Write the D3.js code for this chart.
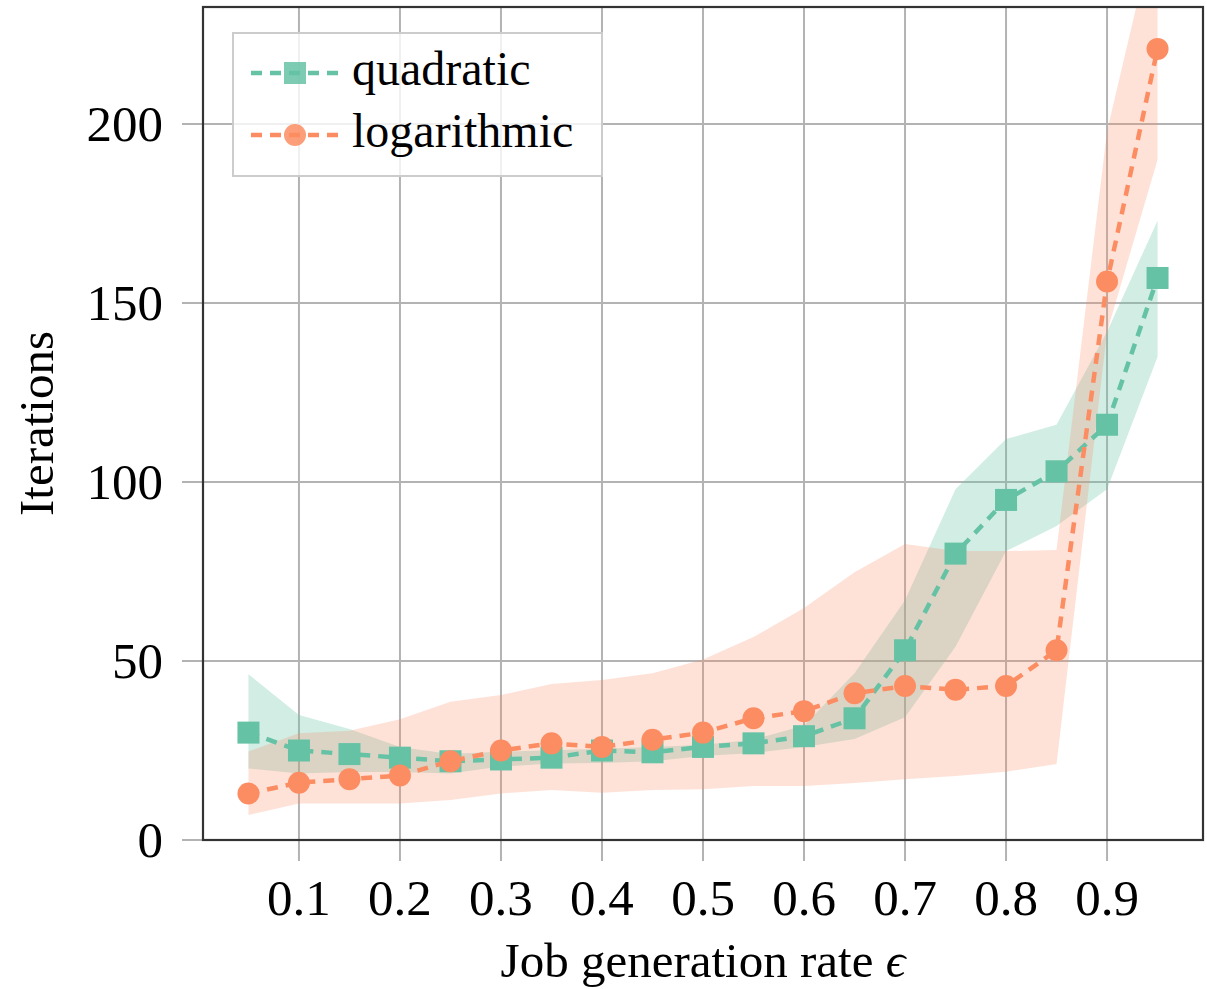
<html>

<head>
    <title>Iterations</title>
    <script src='https://d3js.org/d3.v7.min.js'></script>
    <style>
        body {
            margin: 0;
            background: white;
        }
        text {
            font-family: "Liberation Serif", "Times New Roman", serif;
            fill: black;
        }
    </style>
</head>

<body>
    <svg id="chart"></svg>
    <script>
        // job generation rate
        var rates = [0.05, 0.1, 0.15, 0.2, 0.25, 0.3, 0.35, 0.4, 0.45, 0.5,
            0.55, 0.6, 0.65, 0.7, 0.75, 0.8, 0.85, 0.9, 0.95];

        var quadMean = [30, 25, 24, 23, 22, 22.5, 23, 25, 24.5, 26,
            27, 29, 34, 53, 80, 95, 103, 116, 157];
        var quadUpper = [46.3, 34.9, 31, 26, 24, 24.7, 25.1, 25.5, 26, 26.6,
            28, 32, 46.6, 67, 98, 112, 116, 142, 173];
        var quadLower = [20, 18.6, 19, 19, 18.6, 20.5, 21.4, 21.5, 22, 23.5,
            24.3, 26, 28.2, 34.3, 54, 80.7, 87.7, 98, 135];

        var logMean = [13, 16, 17, 18, 22, 25, 27, 26, 28, 30,
            34, 36, 41, 43, 42, 43, 53, 156, 221];
        var logUpper = [24.7, 29.8, 30.5, 33.7, 38.6, 40.5, 43.6, 44.7, 46.6, 50.4,
            56.7, 64.8, 74.8, 82.7, 80.7, 80.7, 81, 198, 258];
        var logLower = [7, 10.2, 10.2, 10.2, 11.2, 13, 14, 13.2, 14, 14.2,
            15.1, 15.1, 15.9, 17, 17.9, 19.1, 21.2, 142, 190];

        var xTicks = [0.1, 0.2, 0.3, 0.4, 0.5, 0.6, 0.7, 0.8, 0.9];
        var yTicks = [0, 50, 100, 150, 200];

        var W = 1207, H = 989;
        var plotL = 203, plotR = 1203, plotT = 7, plotB = 840;
        var teal = "#66c2a5", orange = "#fc8d62", gridColor = "#b3b3b3";

        var x = d3.scaleLinear().domain([0.005, 0.995]).range([plotL, plotR]);
        var y = d3.scaleLinear().domain([0, 232.7]).range([plotB, plotT]);

        var svg = d3.select("#chart").attr("width", W).attr("height", H);

        svg.append("defs").append("clipPath").attr("id", "plotclip")
            .append("rect")
            .attr("x", plotL).attr("y", plotT)
            .attr("width", plotR - plotL).attr("height", plotB - plotT);

        // grid + outside ticks
        svg.append("g").selectAll("line").data(xTicks).enter().append("line")
            .attr("x1", d => x(d)).attr("x2", d => x(d))
            .attr("y1", plotT).attr("y2", plotB + 21)
            .attr("stroke", gridColor).attr("stroke-width", 2);
        svg.append("g").selectAll("line").data(yTicks).enter().append("line")
            .attr("x1", plotL - 21).attr("x2", plotR)
            .attr("y1", d => y(d)).attr("y2", d => y(d))
            .attr("stroke", gridColor).attr("stroke-width", 2);

        var plot = svg.append("g").attr("clip-path", "url(#plotclip)");

        function band(upper, lower) {
            return d3.area()
                .x((d, i) => x(rates[i]))
                .y0((d, i) => y(lower[i]))
                .y1((d, i) => y(upper[i]))(rates);
        }
        plot.append("path").attr("d", band(quadUpper, quadLower))
            .attr("fill", teal).attr("fill-opacity", 0.3);
        plot.append("path").attr("d", band(logUpper, logLower))
            .attr("fill", orange).attr("fill-opacity", 0.25);

        var line = d3.line().x(d => x(d[0])).y(d => y(d[1]));

        // quadratic
        plot.append("path")
            .attr("d", line(rates.map((r, i) => [r, quadMean[i]])))
            .attr("fill", "none").attr("stroke", teal)
            .attr("stroke-width", 4.5).attr("stroke-dasharray", "11 8");
        plot.append("g").selectAll("rect").data(rates).enter().append("rect")
            .attr("x", (d, i) => x(d) - 11).attr("y", (d, i) => y(quadMean[i]) - 11)
            .attr("width", 22).attr("height", 22)
            .attr("fill", teal);

        // logarithmic
        plot.append("path")
            .attr("d", line(rates.map((r, i) => [r, logMean[i]])))
            .attr("fill", "none").attr("stroke", orange)
            .attr("stroke-width", 4.5).attr("stroke-dasharray", "11 8");
        plot.append("g").selectAll("circle").data(rates).enter().append("circle")
            .attr("cx", d => x(d)).attr("cy", (d, i) => y(logMean[i]))
            .attr("r", 11)
            .attr("fill", orange);

        // frame
        svg.append("rect")
            .attr("x", plotL).attr("y", plotT)
            .attr("width", plotR - plotL).attr("height", plotB - plotT)
            .attr("fill", "none").attr("stroke", "#333").attr("stroke-width", 2.2);

        // tick labels
        svg.append("g").selectAll("text").data(xTicks).enter().append("text")
            .attr("x", d => x(d)).attr("y", 915)
            .attr("text-anchor", "middle").attr("font-size", 51)
            .text(d => d3.format(".1f")(d));
        svg.append("g").selectAll("text").data(yTicks).enter().append("text")
            .attr("x", 163).attr("y", d => y(d) + 17)
            .attr("text-anchor", "end").attr("font-size", 51)
            .text(d => d);

        // axis titles
        var xl = svg.append("text")
            .attr("x", (plotL + plotR) / 2).attr("y", 977)
            .attr("text-anchor", "middle").attr("font-size", 49);
        xl.append("tspan").text("Job generation rate ");
        xl.append("tspan").attr("font-style", "italic").text("\u03f5");

        svg.append("text")
            .attr("transform", "translate(53," + (plotT + plotB) / 2 + ") rotate(-90)")
            .attr("text-anchor", "middle").attr("font-size", 49)
            .text("Iterations");

        // legend
        var legend = svg.append("g");
        legend.append("rect")
            .attr("x", 233).attr("y", 33).attr("width", 369).attr("height", 143)
            .attr("fill", "white").attr("fill-opacity", 0.8)
            .attr("stroke", "#cccccc").attr("stroke-width", 2);
        var entries = [
            { name: "quadratic", color: teal, shape: "square", cy: 73 },
            { name: "logarithmic", color: orange, shape: "circle", cy: 135 }
        ];
        entries.forEach(function (e) {
            legend.append("line")
                .attr("x1", 251).attr("x2", 339).attr("y1", e.cy).attr("y2", e.cy)
                .attr("stroke", e.color).attr("stroke-width", 4.5)
                .attr("stroke-dasharray", "11 8");
            if (e.shape == "square") {
                legend.append("rect")
                    .attr("x", 284).attr("y", e.cy - 11).attr("width", 22).attr("height", 22)
                    .attr("fill", e.color).attr("fill-opacity", 0.85);
            } else {
                legend.append("circle")
                    .attr("cx", 295).attr("cy", e.cy).attr("r", 11)
                    .attr("fill", e.color).attr("fill-opacity", 0.85);
            }
            legend.append("text")
                .attr("x", 352).attr("y", e.cy + 12)
                .attr("font-size", 48)
                .text(e.name);
        });
    </script>
</body>

</html>
